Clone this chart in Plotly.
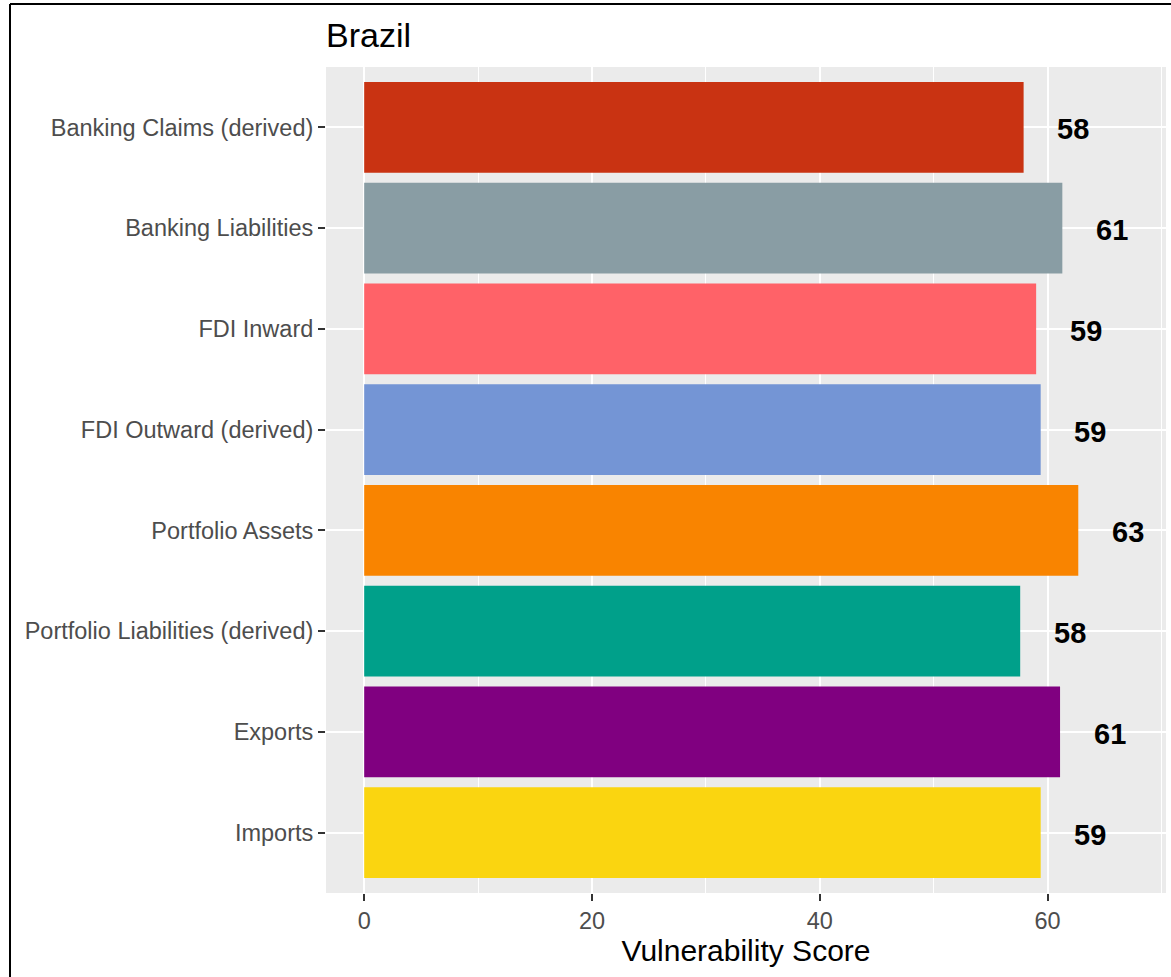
import plotly.graph_objects as go

# Vulnerability scores by exposure channel for Brazil
categories = [
    "Banking Claims (derived)",
    "Banking Liabilities",
    "FDI Inward",
    "FDI Outward (derived)",
    "Portfolio Assets",
    "Portfolio Liabilities (derived)",
    "Exports",
    "Imports",
]
scores = [57.9, 61.3, 59.0, 59.4, 62.7, 57.6, 61.1, 59.4]
bar_colors = [
    "#C93312", "#899DA4", "#FF6268", "#7495D5",
    "#F98400", "#00A08A", "#800080", "#FAD510",
]
x_ticks = [0, 20, 40, 60]

# layout constants (pixels)
W, H = 1171, 977
ML, MR, MT, MB = 326, 5, 67, 84
FONT = "Arial, Liberation Sans, sans-serif"

label_offset = 4.35
label_x = [v + label_offset for v in scores]
labels = [f"{round(v):d}" for v in scores]
hi = max(label_x)
pad = 0.05 * hi

fig = go.Figure()
fig.add_trace(go.Bar(
    x=scores, y=categories, orientation="h",
    width=0.9, marker=dict(color=bar_colors, line=dict(width=0)),
    showlegend=False, hoverinfo="x+y",
))

# value labels to the right of each bar
for xv, cat, txt in zip(label_x, categories, labels):
    fig.add_annotation(
        x=xv, y=cat, text=txt, showarrow=False,
        xanchor="center", yanchor="middle", yshift=-2,
        font=dict(family=FONT, size=29, color="black", weight="bold"),
    )

# outer frame (top and left edges visible)
pw, ph = W - ML - MR, H - MT - MB
x_left = (10 - ML) / pw
y_top = (H - MB - 4) / ph
fig.add_shape(type="line", xref="paper", yref="paper",
              x0=x_left, x1=(W + 20 - ML) / pw, y0=y_top, y1=y_top,
              line=dict(color="black", width=2))
fig.add_shape(type="line", xref="paper", yref="paper",
              x0=x_left, x1=x_left, y0=y_top, y1=-(MB + 20) / ph,
              line=dict(color="black", width=2))

fig.update_layout(
    width=W, height=H,
    margin=dict(l=ML, r=MR, t=MT, b=MB),
    paper_bgcolor="white", plot_bgcolor="#EBEBEB",
    font=dict(family=FONT),
    title=dict(text="Brazil", x=0, xref="paper", xanchor="left",
               y=1 - 35 / H, yref="container", yanchor="middle",
               font=dict(family=FONT, size=34, color="black")),
    xaxis=dict(
        range=[-pad, hi + pad], tickvals=x_ticks,
        showgrid=True, gridcolor="white", gridwidth=2.2,
        minor=dict(dtick=10, tick0=0, showgrid=True, gridcolor="white",
                   gridwidth=1.1, ticklen=0),
        zeroline=False, showline=False,
        ticks="outside", ticklen=7, tickwidth=2, tickcolor="#333333",
        tickfont=dict(family=FONT, size=23.5, color="#4D4D4D"),
        title=dict(text="Vulnerability Score", standoff=6,
                   font=dict(family=FONT, size=30, color="black")),
    ),
    yaxis=dict(
        categoryorder="array", categoryarray=categories,
        range=[len(categories) - 0.4, -0.6],
        showgrid=True, gridcolor="white", gridwidth=2.2,
        zeroline=False, showline=False,
        ticks="outside", ticklen=7, tickwidth=2, tickcolor="#333333",
        tickfont=dict(family=FONT, size=23.5, color="#4D4D4D"),
    ),
)

fig.write_html("out.html")
